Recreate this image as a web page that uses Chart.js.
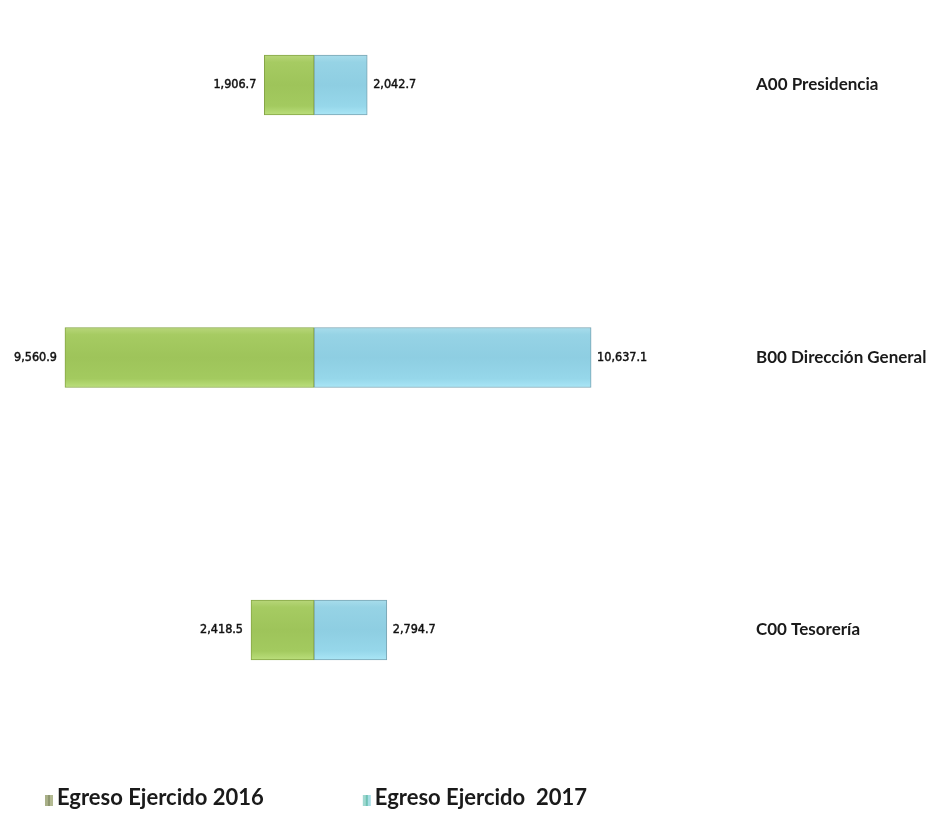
<!DOCTYPE html>
<html>
<head>
<meta charset="utf-8">
<style>
  html, body { margin: 0; padding: 0; background: #ffffff; }
  #wrap { position: relative; width: 936px; height: 819px; }
</style>
<script src="https://cdn.jsdelivr.net/npm/chart.js@4.4.1/dist/chart.umd.min.js"></script>
</head>
<body>
<div id="wrap"><canvas id="chart"></canvas></div>
<script>
// ---- data ----
const categories = ['A00 Presidencia', 'B00 Dirección General', 'C00 Tesorería'];
const egreso2016 = [1906.7, 9560.9, 2418.5];
const egreso2017 = [2042.7, 10637.1, 2794.7];
const seriesNames = ['Egreso Ejercido 2016', 'Egreso Ejercido  2017'];

// ---- styling helpers ----
function barGradient(ctx, stops, fallback) {
  const chart = ctx.chart;
  const ys = chart.scales && chart.scales.y;
  if (!ys || !chart.chartArea || ctx.dataIndex === undefined) return fallback;
  const cy = ys.getPixelForValue(ctx.dataIndex);
  const g = chart.ctx.createLinearGradient(0, cy - 30, 0, cy + 30);
  stops.forEach(s => g.addColorStop(s[0], s[1]));
  return g;
}
const greenStops = [[0, '#B8D67A'], [0.12, '#A6CB62'], [0.5, '#9EC45A'], [0.85, '#A3CA5F'], [1, '#BBDF7C']];
const blueStops = [[0, '#A8DDEC'], [0.12, '#96D3E5'], [0.5, '#8ECEE2'], [0.85, '#96D7EA'], [1, '#AAE6F6']];

function makeMarker(colors) {
  const c = document.createElement('canvas');
  c.width = 40; c.height = 20;
  const x = c.getContext('2d');
  const w = [3, 2, 3];
  let px = 29;
  colors.forEach((col, i) => { x.fillStyle = col; x.fillRect(px, 7, w[i], 11); px += w[i]; });
  return c;
}
const markers = [
  makeMarker(['#A9B088', '#8F9770', '#B3BA92']),
  makeMarker(['#9FD8D0', '#6FC3B4', '#A6DDE4'])
];

function fmt(v) {
  return v.toLocaleString('en-US', { minimumFractionDigits: 1, maximumFractionDigits: 1 });
}

const valueLabels = {
  id: 'valueLabels',
  afterDatasetsDraw(chart) {
    const ctx = chart.ctx;
    ctx.save();
    ctx.font = '12.5px "DejaVu Sans Condensed", "Liberation Sans", Arial, sans-serif';
    ctx.fillStyle = '#111111';
    ctx.strokeStyle = '#111111';
    ctx.lineWidth = 0.45;
    ctx.textBaseline = 'middle';
    chart.data.datasets.forEach((ds, di) => {
      const meta = chart.getDatasetMeta(di);
      meta.data.forEach((bar, i) => {
        const raw = ds.data[i];
        const neg = raw < 0;
        const tx = bar.x + (neg ? -8 : 6);
        ctx.textAlign = neg ? 'right' : 'left';
        ctx.fillText(fmt(Math.abs(raw)), tx, bar.y);
        ctx.strokeText(fmt(Math.abs(raw)), tx, bar.y);
      });
    });
    ctx.restore();
  }
};

new Chart(document.getElementById('chart'), {
  type: 'bar',
  data: {
    labels: categories,
    datasets: [
      {
        label: seriesNames[0],
        data: egreso2016.map(v => -v),
        backgroundColor: (c) => barGradient(c, greenStops, '#9EC45A'),
        borderColor: '#86A646',
        borderWidth: 1,
        borderSkipped: false,
        barThickness: 60,
        clip: false
      },
      {
        label: seriesNames[1],
        data: egreso2017,
        backgroundColor: (c) => barGradient(c, blueStops, '#8ECEE2'),
        borderColor: '#7AA5B3',
        borderWidth: 1,
        borderSkipped: false,
        barThickness: 60,
        clip: false
      }
    ]
  },
  options: {
    indexAxis: 'y',
    responsive: true,
    maintainAspectRatio: false,
    animation: false,
    layout: { padding: { top: 85, left: -54, right: 0, bottom: 0 } },
    scales: {
      x: {
        stacked: true,
        min: -12054,
        max: 14395,
        position: 'bottom',
        grid: { display: false, drawTicks: false },
        border: { display: false },
        ticks: { display: false },
        afterFit: (s) => { s.height = 77; }
      },
      y: {
        stacked: true,
        position: 'right',
        offset: false,
        grid: { display: false, drawTicks: false },
        border: { display: false },
        ticks: {
          padding: 67,
          color: '#1a1a1a',
          font: { family: 'Lato, "Open Sans", sans-serif', size: 17, weight: 'bold' }
        },
        afterFit: (s) => { s.width = 247; }
      }
    },
    plugins: {
      tooltip: { enabled: false },
      legend: {
        position: 'bottom',
        align: 'start',
        labels: {
          usePointStyle: true,
          pointStyleWidth: 20,
          padding: 80,
          color: '#1a1a1a',
          font: { family: 'Lato, "Open Sans", sans-serif', size: 22, weight: 'bold' },
          generateLabels(chart) {
            const items = Chart.defaults.plugins.legend.labels.generateLabels(chart);
            items.forEach((it, i) => {
              it.pointStyle = markers[i];
              it.lineWidth = 0;
              it.strokeStyle = 'rgba(0,0,0,0)';
            });
            return items;
          }
        }
      }
    }
  },
  plugins: [valueLabels]
});
</script>
</body>
</html>
